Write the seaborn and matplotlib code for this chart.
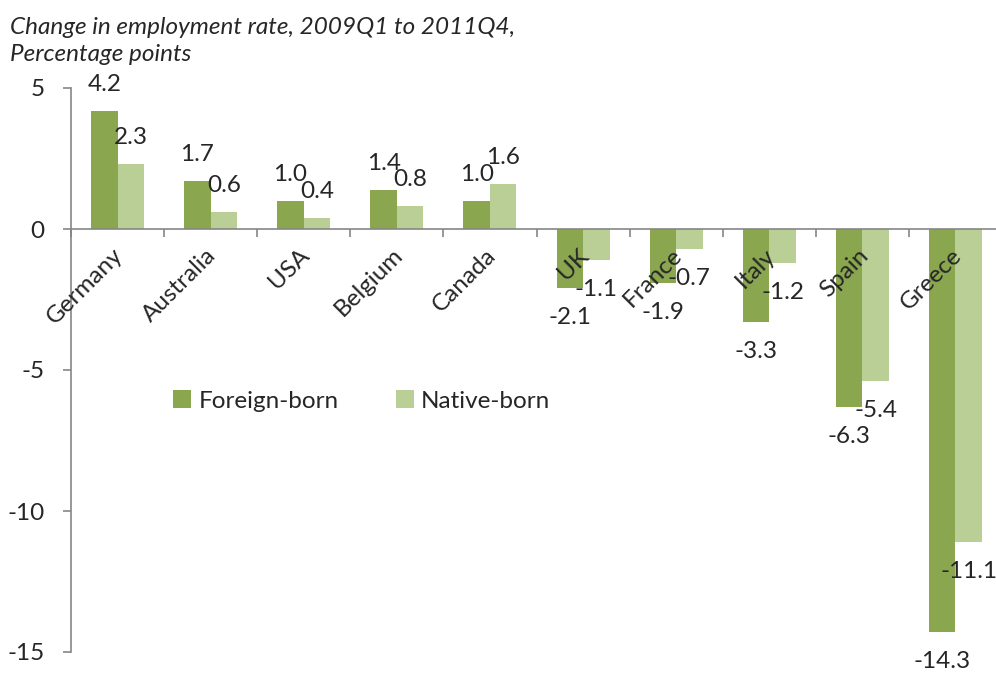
import numpy as np
import pandas as pd
import matplotlib
matplotlib.use("Agg")
import matplotlib.pyplot as plt
import seaborn as sns
from matplotlib.patches import Patch

countries = ["Germany", "Australia", "USA", "Belgium", "Canada",
             "UK", "France", "Italy", "Spain", "Greece"]
foreign_born = [4.2, 1.7, 1.0, 1.4, 1.0, -2.1, -1.9, -3.3, -6.3, -14.3]
native_born = [2.3, 0.6, 0.4, 0.8, 1.6, -1.1, -0.7, -1.2, -5.4, -11.1]
series_names = ["Foreign-born", "Native-born"]
y_ticks = [5, 0, -5, -10, -15]
title_text = "Change in employment rate, 2009Q1 to 2011Q4,\nPercentage points"

c_foreign = "#8AA64F"
c_native = "#BACF96"
axis_gray = "#868686"

sns.set_theme(style="white")
plt.rcParams['font.family'] = ['Lato', 'DejaVu Sans']

df = pd.DataFrame({
    "country": countries * 2,
    "group": [series_names[0]] * len(countries) + [series_names[1]] * len(countries),
    "value": foreign_born + native_born,
})

FS = 17.5

fig = plt.figure(figsize=(9.96, 6.73), dpi=100)
ax = fig.add_axes([71 / 996, 1 - 652 / 673, (1002 - 71) / 996, (652 - 88) / 673])

sns.barplot(data=df, x="country", y="value", hue="group", order=countries,
            hue_order=series_names, palette=[c_foreign, c_native],
            width=0.57, dodge=True, saturation=1, linewidth=0, ax=ax,
            legend=False, errorbar=None)

ax.set_axisbelow(False)
ax.set_ylim(-15, 5)
ax.set_xlim(-0.5, len(countries) - 0.5)
ax.set_yticks(y_ticks)
ax.set_yticklabels([str(v) for v in y_ticks], fontsize=FS)
ax.set_xlabel("")
ax.set_ylabel("")

for s in ["top", "right"]:
    ax.spines[s].set_visible(False)
ax.spines["left"].set_color(axis_gray)
ax.spines["bottom"].set_color(axis_gray)
ax.spines["left"].set_linewidth(1.2)
ax.spines["bottom"].set_linewidth(1.2)
ax.spines["bottom"].set_position(("data", 0))

ax.tick_params(axis="y", direction="out", length=6, width=1.2, color=axis_gray,
               pad=13, left=True, labelsize=FS)
ax.set_xticks(np.arange(len(countries)))
ax.set_xticks(np.arange(len(countries) + 1) - 0.5, minor=True)
ax.tick_params(axis="x", which="major", length=0, pad=4)
ax.tick_params(axis="x", which="minor", direction="out", length=6, width=1.2,
               color=axis_gray, bottom=True)
ax.set_xticklabels(countries, rotation=45, ha="right", rotation_mode="anchor",
                   fontsize=FS)
for lbl in ax.get_xticklabels():
    lbl.set_transform(lbl.get_transform() + matplotlib.transforms.ScaledTranslation(-5 / 100, -10 / 100, fig.dpi_scale_trans))

# data labels
for container in ax.containers:
    for bar in container:
        h = bar.get_height()
        x = bar.get_x() + bar.get_width() / 2
        if h >= 0:
            ax.annotate(f"{h:.1f}", (x, h), xytext=(0, 16), textcoords="offset pixels",
                        ha="center", va="bottom", fontsize=FS, annotation_clip=False)
        else:
            ax.annotate(f"{h:.1f}", (x, h), xytext=(0, -19), textcoords="offset pixels",
                        ha="center", va="top", fontsize=FS, annotation_clip=False)

handles = [Patch(facecolor=c_foreign, edgecolor="none"),
           Patch(facecolor=c_native, edgecolor="none")]
fig.legend(handles, series_names, loc="center left",
           bbox_to_anchor=(151 / 996, 1 - 401 / 673), ncol=2, frameon=False,
           fontsize=FS, handlelength=0.75, handleheight=0.75, handletextpad=0.3,
           columnspacing=2.35)

fig.text(10 / 996, 1 - 41 / 673, title_text, fontsize=FS, style="italic",
         ha="left", va="center", linespacing=1.35)

fig.savefig("out.png", dpi=100)
